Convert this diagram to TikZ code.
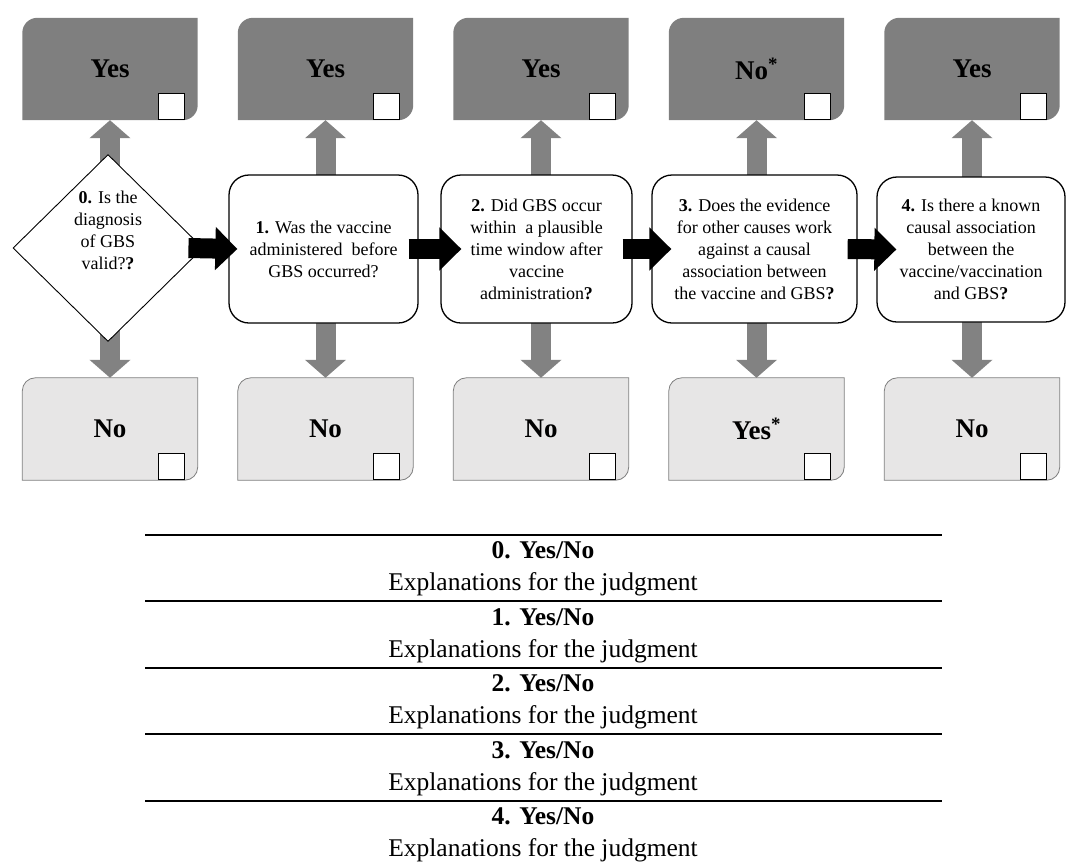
\documentclass[tikz,border=0pt]{standalone}
\usepackage{fontspec}
\setmainfont{Liberation Serif}
\usepackage{xcolor}
\usepackage{tikz}
\usetikzlibrary{arrows.meta,positioning,shapes.geometric,calc}

\definecolor{yesgray}{RGB}{127,127,127}
\definecolor{nogray}{RGB}{231,230,230}
\definecolor{arrowgray}{RGB}{130,130,130}

\pgfdeclarelayer{back}
\pgfdeclarelayer{shade}
\pgfsetlayers{back,shade,main}

% box with round top-left and bottom-right corners
\newcommand{\cornerbox}[3]{%
  \path[#3] (#1.south west) -- ([yshift=-#2]#1.north west)
    arc[start angle=180, end angle=90, radius=#2] -- (#1.north east)
    -- ([yshift=#2]#1.south east)
    arc[start angle=0, end angle=-90, radius=#2] -- cycle;}

\begin{document}
\begin{tikzpicture}[
  x=1pt, y=1pt,
  answer/.style={minimum width=175pt, minimum height=102pt, inner sep=0pt, font=\fontsize{27}{30}\selectfont\bfseries},
  question/.style={draw, line width=1.3pt, rounded corners=20pt, fill=white, align=center, minimum height=148pt, inner sep=2pt, font=\fontsize{18}{22}\selectfont},
  decision/.style={draw, diamond, fill=white, line width=0.9pt, minimum width=190pt, minimum height=187pt, inner sep=0pt},
  qtext/.style={align=center, font=\fontsize{18}{22}\selectfont},
  checkbox/.style={draw, fill=white, line width=1pt, minimum size=26pt, inner sep=0pt, anchor=south east},
  flow/.style={draw=black, line width=20pt, -{Triangle[width=42pt,length=22pt]}},
  branch/.style={draw=arrowgray, line width=20pt, -{Triangle[width=40pt,length=18pt]}},
  row/.style={align=center, font=\fontsize{25.5}{32}\selectfont},
  rule/.style={line width=1.8pt},
]
\useasboundingbox (0,0) rectangle (1067,-863);

% questions
\node[decision, label={[qtext, yshift=18pt]center:{\textbf{0.} Is the\\diagnosis\\of GBS\\valid?\textbf{?}}}] (q0) at (108,-248) {};
\node[question, minimum width=189pt] (q1) at (323.5,-249) {\textbf{1.} Was the vaccine\\administered~ before\\GBS occurred?};
\node[question, minimum width=191pt] (q2) at (536.5,-249) {\textbf{2.} Did GBS occur\\within~ a plausible\\time window after\\vaccine\\administration\textbf{?}};
\node[question, minimum width=205pt] (q3) at (754.5,-249) {\textbf{3.} Does the evidence\\for other causes work\\against a causal\\association between\\the vaccine and GBS\textbf{?}};
\node[question, minimum width=188pt, minimum height=145pt] (q4) at (971,-249.5) {\textbf{4.} Is there a known\\causal association\\between the\\vaccine/vaccination\\and GBS\textbf{?}};

% answers
\node[answer] (y0) at (110,-69) {Yes};
\node[answer] (y1) at (325.5,-69) {Yes};
\node[answer] (y2) at (541,-69) {Yes};
\node[answer] (y3) at (756.5,-69) {No\textsuperscript{*}};
\node[answer] (y4) at (972,-69) {Yes};
\node[answer] (n0) at (110,-429) {No};
\node[answer] (n1) at (325.5,-429) {No};
\node[answer] (n2) at (541,-429) {No};
\node[answer] (n3) at (756.5,-429) {Yes\textsuperscript{*}};
\node[answer] (n4) at (972,-429) {No};

\node[checkbox] (y0c) at ([xshift=-13pt]y0.south east) {};
\node[checkbox] (y1c) at ([xshift=-13pt]y1.south east) {};
\node[checkbox] (y2c) at ([xshift=-13pt]y2.south east) {};
\node[checkbox] (y3c) at ([xshift=-13pt]y3.south east) {};
\node[checkbox] (y4c) at ([xshift=-13pt]y4.south east) {};
\node[checkbox] (n0c) at ([xshift=-13pt]n0.south east) {};
\node[checkbox] (n1c) at ([xshift=-13pt]n1.south east) {};
\node[checkbox] (n2c) at ([xshift=-13pt]n2.south east) {};
\node[checkbox] (n3c) at ([xshift=-13pt]n3.south east) {};
\node[checkbox] (n4c) at ([xshift=-13pt]n4.south east) {};

\begin{pgfonlayer}{shade}
\cornerbox{y0}{15pt}{fill=yesgray}
\cornerbox{y1}{15pt}{fill=yesgray}
\cornerbox{y2}{15pt}{fill=yesgray}
\cornerbox{y3}{15pt}{fill=yesgray}
\cornerbox{y4}{15pt}{fill=yesgray}
\cornerbox{n0}{13pt}{fill=nogray, draw=yesgray, line width=0.8pt}
\cornerbox{n1}{13pt}{fill=nogray, draw=yesgray, line width=0.8pt}
\cornerbox{n2}{13pt}{fill=nogray, draw=yesgray, line width=0.8pt}
\cornerbox{n3}{13pt}{fill=nogray, draw=yesgray, line width=0.8pt}
\cornerbox{n4}{13pt}{fill=nogray, draw=yesgray, line width=0.8pt}
\end{pgfonlayer}

% gray yes/no arrows behind the questions
\begin{pgfonlayer}{back}
\draw[branch] (y0.south |- q0.center) -- (y0.south);
\draw[branch] (y1.south |- q1.center) -- (y1.south);
\draw[branch] (y2.south |- q2.center) -- (y2.south);
\draw[branch] (y3.south |- q3.center) -- (y3.south);
\draw[branch] (y4.south |- q4.center) -- (y4.south);
\draw[branch] (n0.north |- q0.center) -- (n0.north);
\draw[branch] (n1.north |- q1.center) -- (n1.north);
\draw[branch] (n2.north |- q2.center) -- (n2.north);
\draw[branch] (n3.north |- q3.center) -- (n3.north);
\draw[branch] (n4.north |- q4.center) -- (n4.north);
\end{pgfonlayer}

% black arrows between questions
\draw[flow] ([xshift=-15pt]q0.east) -- ([xshift=9pt]q1.west);
\draw[flow] ([xshift=-10pt]q1.east) -- ([xshift=21pt]q2.west);
\draw[flow] ([xshift=-10pt]q2.east) -- ([xshift=20pt]q3.west);
\draw[flow] ([xshift=-10pt]q3.east) -- ([xshift=20pt]q4.west);

% table of judgments
\node[row] (t0) at (543,-569) {\textbf{0. Yes/No}\\Explanations for the judgment};
\node[row] (t1) at (543,-635.5) {\textbf{1. Yes/No}\\Explanations for the judgment};
\node[row] (t2) at (543,-702) {\textbf{2. Yes/No}\\Explanations for the judgment};
\node[row] (t3) at (543,-768.5) {\textbf{3. Yes/No}\\Explanations for the judgment};
\node[row] (t4) at (543,-835) {\textbf{4. Yes/No}\\Explanations for the judgment};

\draw[rule, line width=2.6pt] (145,-535) -- (942,-535);
\draw[rule] (145,-601) -- (942,-601);
\draw[rule] (145,-668) -- (942,-668);
\draw[rule] (145,-734) -- (942,-734);
\draw[rule] (145,-801) -- (942,-801);

\end{tikzpicture}
\end{document}
